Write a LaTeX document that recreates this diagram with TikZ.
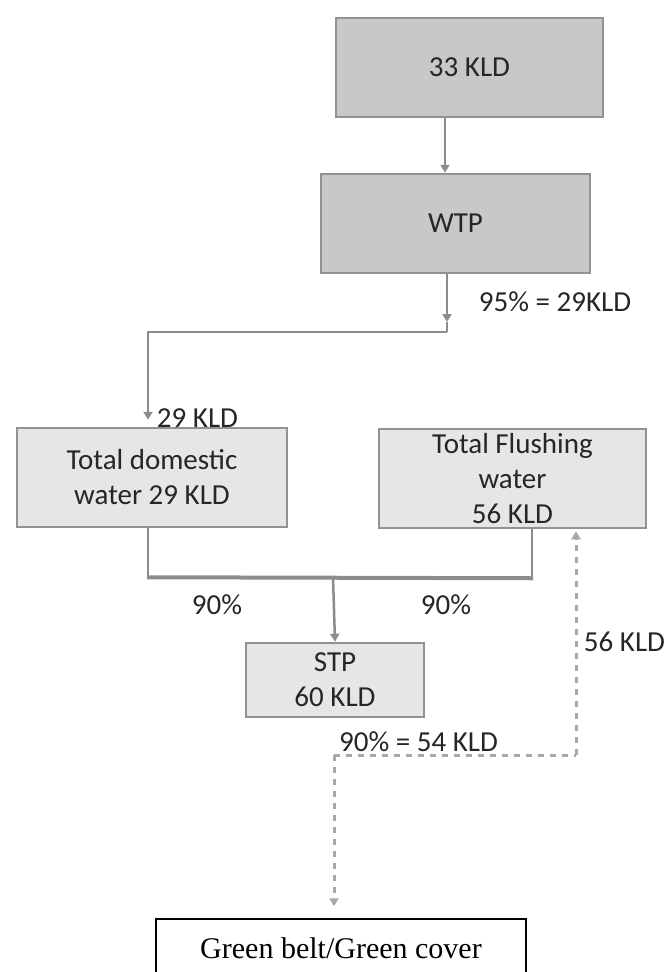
\documentclass[tikz,border=0pt]{standalone}
\usepackage{fontspec}
\setmainfont{Liberation Serif}
\newfontfamily\calib{Carlito}
\usetikzlibrary{arrows.meta,calc}

\definecolor{darkfill}{HTML}{C8C8C8}
\definecolor{lightfill}{HTML}{E6E6E6}
\definecolor{boxedge}{HTML}{929292}
\definecolor{lineclr}{HTML}{8C8C8C}
\definecolor{dashclr}{HTML}{A8A8A8}
\definecolor{textclr}{HTML}{262626}

\tikzset{
  labelfont/.style={font=\calib\fontsize{29}{35}\selectfont, text=textclr},
  darkbox/.style={draw=boxedge, fill=darkfill, line width=2.5pt, inner sep=0pt,
    align=center, labelfont},
  lightbox/.style={draw=boxedge, fill=lightfill, line width=2.5pt, inner sep=0pt,
    align=center, labelfont},
  flowlbl/.style={inner sep=0pt, labelfont},
  conn/.style={draw=lineclr, line width=2.5pt},
  busline/.style={draw=lineclr, line width=4pt},
  tip/.style={-{Triangle[width=9pt,length=8pt]}},
  dashconn/.style={draw=dashclr, line width=3pt, dash pattern=on 6pt off 6pt},
}

\begin{document}
\begin{tikzpicture}[x=1pt,y=-1pt]
\useasboundingbox (0,0) rectangle (670,972);
\clip (0,0) rectangle (670,972);

% process boxes
\node[darkbox, minimum width=267pt, minimum height=99pt] (src) at (469.5,67.5) {33 KLD};
\node[darkbox, minimum width=269pt, minimum height=99pt] (wtp) at (455.5,223.5) {WTP};
\node[lightbox, minimum width=270pt, minimum height=99pt] (dom) at (152,477.5)
  {Total domestic\\water 29 KLD};
\node[lightbox, minimum width=267pt, minimum height=99pt] (flush) at (512.5,478.5)
  {Total Flushing\\water\\56 KLD};
\node[lightbox, minimum width=178pt, minimum height=74pt] (stp) at (335,680)
  {STP\\60 KLD};
\node[draw=black, fill=white, line width=1.5pt, minimum width=370pt, minimum height=58pt,
  inner sep=0pt, font=\fontsize{30}{36}\selectfont] (green) at (341,948) {Green belt/Green cover};

% flow labels
\node[flowlbl] (l95) at (555,302) {95\% = 29KLD};
\node[flowlbl] (l29) at (197.5,418) {29 KLD};
\node[flowlbl] (l90a) at (217,605) {90\%};
\node[flowlbl] (l90b) at (446,605) {90\%};
\node[flowlbl] (l56) at (624.5,642) {56 KLD};
\node[flowlbl] (l54) at (418.5,742) {90\% = 54 KLD};

% branch and junction points
\coordinate (wtpout) at (447,322);
\coordinate (split) at (447,332);
\coordinate (merge) at (333,577);
\coordinate (reuse) at (334,755);
\coordinate (retx) at ($(flush.south)+(63.5,0)$);

% supply side
\draw[conn, tip] ($(src.south)+(-24.5,0)$) -- ($(wtp.north)+(-10.5,0)$);
\draw[conn, tip] ($(wtp.south)+(-8.5,0)$) -- (wtpout);
\draw[conn] (wtpout) -- (split);
\draw[conn, tip, shorten >=7pt] (split) -| ($(dom.north)+(-4,0)$);

% collection to STP
\draw[conn] ($(dom.south)+(-4,0)$) -- ($(dom.south)+(-4,49)$);
\draw[conn] ($(flush.south)+(19.5,0)$) -- ($(flush.south)+(19.5,49)$);
\draw[busline] ($(dom.south)+(-5,49)$) -- ($(flush.south)+(20.5,49)$);
\draw[conn, tip] (merge) -- (stp.north);

% treated water reuse
\draw[dashconn] (reuse) -- (retx |- reuse);
\draw[dashconn, tip, shorten >=2pt] (retx |- reuse) -- (retx);
\draw[dashconn, tip, shorten >=12pt] (reuse) -- (reuse |- green.north);
\end{tikzpicture}
\end{document}
